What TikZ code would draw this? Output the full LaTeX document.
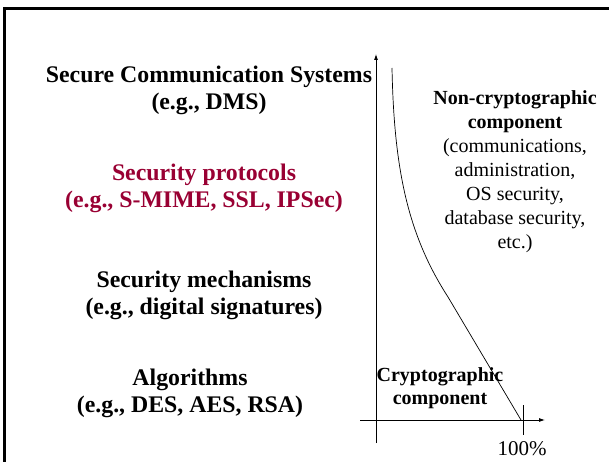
\documentclass[tikz,border=0pt]{standalone}
\usepackage{fontspec}
\setmainfont{Liberation Serif}
\usetikzlibrary{arrows.meta}
\definecolor{protored}{HTML}{990033}
\tikzset{
  layer/.style={align=center, font=\fontsize{23.8}{27}\selectfont\bfseries, inner sep=0pt},
  sidenote/.style={align=center, font=\fontsize{20}{24}\selectfont, inner sep=0pt},
  axis/.style={line width=0.8pt, -{Latex[length=6pt,width=4pt]}},
}
\begin{document}
\begin{tikzpicture}[x=1pt,y=-1pt]
\useasboundingbox (0,0) rectangle (609,462);
% slide frame
\draw[line width=3pt] (4,462) -- (4,9) -- (609,9);

% layers of a secure system
\node[layer] (scs) at (209,90) {Secure Communication Systems\\(e.g., DMS)};
\node[layer, text=protored] (prot) at (204,188) {Security protocols\\(e.g., S-MIME, SSL, IPSec)};
\node[layer] (mech) at (204,295) {Security mechanisms\\(e.g., digital signatures)};
\node[layer] (alg) at (190,393) {Algorithms\\(e.g., DES, AES, RSA)};

% axes
\coordinate (ybot) at (376,443);
\coordinate (ytop) at (376,54);
\coordinate (xleft) at (360,420);
\coordinate (xright) at (545,420);
\draw[axis] (ybot) -- (ytop);
\draw[axis] (xleft) -- (xright);
\coordinate (tickt) at (523,405);
\coordinate (tickb) at (523,435);
\draw[line width=0.8pt] (tickt) -- (tickb);
\node[sidenote, font=\fontsize{21}{24}\selectfont] (full) at (522,449) {100\%};

% share of the non-cryptographic part
\coordinate (c0) at (392,68);
\coordinate (c1) at (448,297);
\coordinate (c2) at (521,420);
\draw[line width=0.7pt] (c0) .. controls (394,170) and (408,235) .. (c1) -- (c2);

\node[sidenote] (noncrypto) at (515,172) {\textbf{Non-cryptographic}\\\textbf{component}\\(communications,\\administration,\\OS security,\\database security,\\etc.)};
\node[sidenote, font=\fontsize{20}{23}\selectfont\bfseries] (crypto) at (440,388) {Cryptographic\\component};
\end{tikzpicture}
\end{document}
